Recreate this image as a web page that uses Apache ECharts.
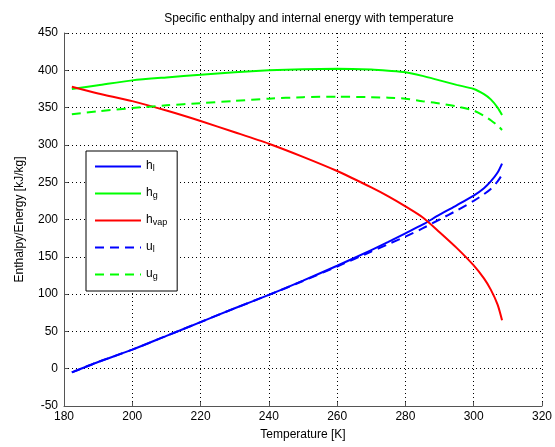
<!DOCTYPE html>
<html>
<head>
<meta charset="utf-8">
<script src="https://cdn.jsdelivr.net/npm/echarts@6/dist/echarts.min.js"></script>
<style>
html,body{margin:0;padding:0;background:#fff;}
#chart{width:555px;height:447px;}
</style>
</head>
<body>
<div id="chart"></div>
<script>
// Temperatures [K]
var temperature = [182.3, 190, 200, 210, 220, 230, 240, 250, 260, 270, 275, 280, 285, 290, 295, 300, 303, 305, 307, 308.3];
// Specific enthalpy / internal energy [kJ/kg]
var hLiquid = [-5, 9, 25.5, 44, 62.5, 81, 99, 118, 138, 159, 170, 181.5, 193, 206.5, 219, 232, 242, 251, 263, 275];
var hGas    = [375, 380, 386.5, 390.5, 394, 397.5, 400, 401.5, 402, 401, 399.5, 397.5, 392.5, 386.5, 380.5, 375, 368, 361, 350, 340];
var hVap    = [378, 369, 358.7, 346, 332, 317, 301.6, 284, 265, 243, 231, 217.6, 203, 183, 162, 138.5, 121, 106, 86, 65];
var uLiquid = [-5, 9, 25.5, 44, 62.5, 81, 99, 117.5, 137, 157, 167, 177, 188, 200, 212, 225, 234, 241, 251, 260];
var uGas    = [341, 345, 349.4, 353, 356, 359, 362, 364, 364.6, 364, 363.3, 362, 358.5, 355.5, 351.5, 346, 339, 333, 326, 320];

var xTicks = {min: 180, max: 320, interval: 20};
var yTicks = {min: -50, max: 450, interval: 50};

var seriesNames = ['h_l', 'h_g', 'h_vap', 'u_l', 'u_g'];

function pairs(ys) {
  return temperature.map(function (t, i) { return [t, ys[i]]; });
}

var FONT = '"Liberation Sans", Arial, sans-serif';

var chart = echarts.init(document.getElementById('chart'), null, {renderer: 'canvas'});

function mkSeries(name, ys, color, dashed) {
  return {
    name: name,
    type: 'line',
    data: pairs(ys),
    showSymbol: false,
    symbol: 'none',
    smooth: 0.25,
    lineStyle: {color: color, width: 2, type: dashed ? [9, 6] : 'solid'},
    itemStyle: {color: color},
    emphasis: {disabled: true},
    animation: false
  };
}

var option = {
  animation: false,
  backgroundColor: '#ffffff',
  title: {
    text: 'Specific enthalpy and internal energy with temperature',
    left: 304,
    textAlign: 'center',
    top: 8,
    textStyle: {fontFamily: FONT, fontSize: 12, fontWeight: 'normal', color: '#000'}
  },
  grid: {left: 64, right: 11, top: 33, bottom: 41, containLabel: false},
  legend: {
    show: true,
    orient: 'vertical',
    left: 86,
    top: 151,
    data: seriesNames,
    itemWidth: 46,
    itemHeight: 14,
    itemGap: 10,
    padding: [5, 10, 10, 8],
    backgroundColor: '#ffffff',
    borderColor: '#000000',
    borderWidth: 1,
    borderRadius: 0,
    selectedMode: false,
    itemStyle: {opacity: 0, borderWidth: 0},
    formatter: function (name) {
      var parts = name.split('_');
      return '{b|' + parts[0] + '}{s|' + parts[1] + '}';
    },
    textStyle: {
      fontFamily: FONT,
      color: '#000',
      rich: {
        b: {fontFamily: FONT, fontSize: 12, color: '#000', verticalAlign: 'top', lineHeight: 13},
        s: {fontFamily: FONT, fontSize: 9, color: '#000', verticalAlign: 'bottom', padding: [8, 0, 0, 0], lineHeight: 9}
      }
    }
  },
  xAxis: {
    type: 'value',
    min: xTicks.min, max: xTicks.max, interval: xTicks.interval,
    name: 'Temperature [K]',
    nameLocation: 'middle',
    nameGap: 23,
    nameTextStyle: {fontFamily: FONT, fontSize: 12, color: '#000'},
    axisLine: {show: true, onZero: false, lineStyle: {color: '#555', width: 1}},
    axisTick: {show: true, inside: true, length: 4, lineStyle: {color: '#555'}},
    axisLabel: {fontFamily: FONT, fontSize: 12, color: '#000', margin: 5},
    splitLine: {show: true, lineStyle: {color: '#000', type: [1, 3], width: 1}}
  },
  yAxis: {
    type: 'value',
    min: yTicks.min, max: yTicks.max, interval: yTicks.interval,
    name: 'Enthalpy/Energy [kJ/kg]',
    nameLocation: 'middle',
    nameGap: 38,
    nameTextStyle: {fontFamily: FONT, fontSize: 12, color: '#000'},
    axisLine: {show: true, onZero: false, lineStyle: {color: '#555', width: 1}},
    axisTick: {show: true, inside: true, length: 4, lineStyle: {color: '#555'}},
    axisLabel: {fontFamily: FONT, fontSize: 12, color: '#000', margin: 6},
    splitLine: {show: true, lineStyle: {color: '#000', type: [1, 3], width: 1}}
  },
  series: [
    mkSeries('h_l', hLiquid, '#0000ff', false),
    mkSeries('h_g', hGas, '#00ff00', false),
    mkSeries('h_vap', hVap, '#ff0000', false),
    mkSeries('u_l', uLiquid, '#0000ff', true),
    mkSeries('u_g', uGas, '#00ff00', true)
  ]
};
chart.setOption(option);
</script>
</body>
</html>
